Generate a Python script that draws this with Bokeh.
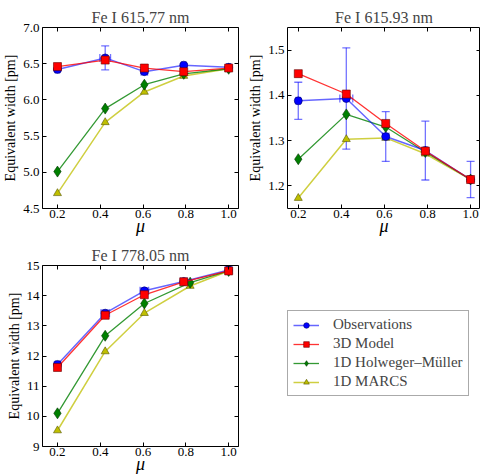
from bokeh.plotting import figure
from bokeh.layouts import gridplot
from bokeh.models import (ColumnDataSource, Whisker, TeeHead, LinearAxis, Legend,
                          LegendItem, FixedTicker, Range1d, PrintfTickFormatter)
from bokeh.embed import file_html
from bokeh.resources import INLINE

# Disc positions (mu) of the observed and modelled points
MU = [0.2, 0.423, 0.606, 0.79, 1.0]
MU_1D_77805 = [0.2, 0.423, 0.606, 0.82, 1.0]
MU_TICKS = [0.2, 0.4, 0.6, 0.8, 1.0]

# Fe I 615.77 nm  (equivalent widths in pm)
OBS_61577 = [6.42, 6.58, 6.39, 6.48, 6.45]
OBS_ERR_61577 = [0.02, 0.165, 0.025, 0.02, 0.015]
OBS_XERR_61577 = [0.01, 0.025, 0.015, 0.01, 0.01]
M3D_61577 = [6.46, 6.55, 6.44, 6.39, 6.44]
HM_61577 = [5.01, 5.88, 6.21, 6.36, 6.43]
MARCS_61577 = [4.71, 5.69, 6.11, 6.33, 6.43]

# Fe I 615.93 nm
OBS_61593 = [1.388, 1.393, 1.309, 1.278, 1.214]
OBS_ERR_61593 = [0.041, 0.112, 0.055, 0.065, 0.040]
OBS_XERR_61593 = [0.01, 0.03, 0.015, 0.01, 0.01]
M3D_61593 = [1.448, 1.403, 1.338, 1.277, 1.214]
HM_61593 = [1.259, 1.358, 1.330, 1.275, 1.214]
MARCS_61593 = [1.173, 1.303, 1.306, 1.271, 1.214]

# Fe I 778.05 nm
OBS_77805 = [11.72, 13.42, 14.16, 14.47, 14.85]
OBS_ERR_77805 = [0.08, 0.10, 0.09, 0.07, 0.10]
OBS_XERR_77805 = [0.01, 0.02, 0.02, 0.015, 0.01]
M3D_77805 = [11.62, 13.35, 14.03, 14.46, 14.82]
HM_77805 = [10.10, 12.67, 13.74, 14.43, 14.82]
MARCS_77805 = [9.53, 12.15, 13.42, 14.32, 14.82]

SERIES_NAMES = ["Observations", "3D Model", "1D Holweger\u2013M\u00fcller", "1D MARCS"]

FONT = "Liberation Serif"
BLUE, RED, GREEN, YELLOW = "#0000ff", "#ff0000", "#008000", "#bfbf00"

# per-series styles: (line colour, line alpha, line width, marker, size, edge colour)
STYLES = [
    (BLUE, 0.6, 1.5, "circle", 8, "#000066"),
    (RED, 0.8, 1.3, "square", 8, "#660000"),
    (GREEN, 0.8, 1.3, "diamond", 11, "#003300"),
    (YELLOW, 0.75, 1.5, "triangle", 8, "#555500"),
]


def draw_series(p, x, y, style, source=None):
    color, alpha, width, marker, size, edge = style
    if source is not None:
        ln = p.line(x, y, source=source, line_color=color, line_width=width, line_alpha=alpha)
        sc = p.scatter(x, y, source=source, marker=marker, size=size, fill_color=color,
                       line_color=edge, line_width=0.6)
    else:
        ln = p.line(x, y, line_color=color, line_width=width, line_alpha=alpha)
        sc = p.scatter(x, y, marker=marker, size=size, fill_color=color,
                       line_color=edge, line_width=0.6)
    return [ln, sc]


def style_axes(p, y_ticks, y_fmt):
    for ax in p.xaxis + p.yaxis:
        ax.axis_line_color = None
        ax.major_tick_in = 4
        ax.major_tick_out = 0
        ax.minor_tick_line_color = None
        ax.major_tick_line_color = "black"
        ax.major_label_text_font = FONT
        ax.major_label_text_font_size = "13px"
        ax.major_label_text_color = "black"
        ax.axis_label_text_font = FONT
        ax.axis_label_text_color = "black"
    p.xaxis.ticker = FixedTicker(ticks=MU_TICKS)
    p.xaxis.formatter = PrintfTickFormatter(format="%.1f")
    p.yaxis.ticker = FixedTicker(ticks=y_ticks)
    p.yaxis.formatter = PrintfTickFormatter(format=y_fmt)
    p.xaxis.major_label_standoff = 1
    p.yaxis.major_label_standoff = 3
    p.xaxis.axis_label = "\u03bc"
    p.xaxis.axis_label_text_font_size = "18px"
    p.xaxis.axis_label_text_font_style = "italic"
    p.xaxis.axis_label_standoff = -5
    p.yaxis.axis_label = "Equivalent width [pm]"
    p.yaxis.axis_label_text_font_size = "14px"
    p.yaxis.axis_label_text_font_style = "normal"
    p.yaxis.axis_label_standoff = 2
    # tick marks on the opposite sides of the frame
    for place, ticks in (("right", y_ticks), ("above", MU_TICKS)):
        ax = LinearAxis(ticker=FixedTicker(ticks=ticks), axis_line_color=None,
                        major_tick_in=4, major_tick_out=0,
                        minor_tick_line_color=None,
                        major_label_text_font_size="0px",
                        major_label_standoff=0)
        p.add_layout(ax, place)


def panel(title, x_start, x_end, y_start, y_end, y_ticks, y_fmt, obs, obs_err,
          obs_xerr, m3d, hm, marcs, mu_1d, w, h, left, right, top, bottom):
    p = figure(width=w, height=h, output_backend="svg", toolbar_location=None,
               x_range=Range1d(x_start, x_end), y_range=Range1d(y_start, y_end),
               min_border_left=left, min_border_right=right,
               min_border_top=top, min_border_bottom=bottom)
    p.title.text = title
    p.title.text_font = FONT
    p.title.text_font_size = "16px"
    p.title.text_font_style = "normal"
    p.title.align = "center"
    p.title.standoff = 3
    p.grid.visible = False
    p.outline_line_color = "black"
    p.outline_line_width = 1
    p.background_fill_color = "white"
    p.border_fill_color = "white"

    src = ColumnDataSource(dict(
        x=MU, y=obs,
        lo=[v - e for v, e in zip(obs, obs_err)],
        hi=[v + e for v, e in zip(obs, obs_err)],
        xl=[m - e for m, e in zip(MU, obs_xerr)],
        xh=[m + e for m, e in zip(MU, obs_xerr)],
    ))

    draw_series(p, mu_1d, marcs, STYLES[3])
    draw_series(p, mu_1d, hm, STYLES[2])
    # observations with error bars in both directions
    ebar = dict(line_color=BLUE, line_alpha=0.55, line_width=1.3)
    p.add_layout(Whisker(source=src, base="x", lower="lo", upper="hi",
                         upper_head=TeeHead(size=8, **ebar),
                         lower_head=TeeHead(size=8, **ebar), **ebar))
    p.add_layout(Whisker(source=src, base="y", lower="xl", upper="xh",
                         dimension="width",
                         upper_head=TeeHead(size=8, **ebar),
                         lower_head=TeeHead(size=8, **ebar), **ebar))
    draw_series(p, "x", "y", STYLES[0], source=src)
    draw_series(p, MU, m3d, STYLES[1])

    style_axes(p, y_ticks, y_fmt)
    return p


p1 = panel("Fe I 615.77 nm", 0.13, 1.046, 4.5, 7.0,
           [4.5, 5.0, 5.5, 6.0, 6.5, 7.0], "%.1f",
           OBS_61577, OBS_ERR_61577, OBS_XERR_61577,
           M3D_61577, HM_61577, MARCS_61577, MU,
           240, 240, 40, 2, 25, 31)
p2 = panel("Fe I 615.93 nm", 0.15, 1.046, 1.15, 1.55,
           [1.2, 1.3, 1.4, 1.5], "%.1f",
           OBS_61593, OBS_ERR_61593, OBS_XERR_61593,
           M3D_61593, HM_61593, MARCS_61593, MU,
           240, 240, 47, 0, 27, 32)
p3 = panel("Fe I 778.05 nm", 0.13, 1.046, 9, 15,
           [9, 10, 11, 12, 13, 14, 15], "%d",
           OBS_77805, OBS_ERR_77805, OBS_XERR_77805,
           M3D_77805, HM_77805, MARCS_77805, MU_1D_77805,
           240, 236, 40, 2, 25, 28)

# legend panel: the series are drawn outside its (empty) view, only the key shows;
# the grid aligns its view with the panels above and to the left
p4 = figure(width=240, height=236, output_backend="svg", toolbar_location=None,
            x_range=Range1d(5, 6), y_range=Range1d(0, 1), min_border=0,
            x_axis_location=None, y_axis_location=None)
p4.grid.visible = False
p4.outline_line_color = None
groups = [draw_series(p4, MU, ys, st) for ys, st in
          zip([OBS_77805, M3D_77805, HM_77805, MARCS_77805], STYLES)]
items = [LegendItem(label=name, renderers=rs) for name, rs in zip(SERIES_NAMES, groups)]
legend = Legend(items=items, location=(0, 50), label_text_font=FONT,
                label_text_font_size="15px", glyph_width=26, glyph_height=14,
                label_height=14, label_standoff=14, spacing=2, padding=5,
                margin=0, border_line_color="#555555", border_line_width=1.2,
                background_fill_color="white", background_fill_alpha=1)
p4.add_layout(legend)

grid = gridplot([[p1, p2], [p3, p4]], toolbar_location=None)
open("out.html", "w").write(file_html(grid, INLINE))
